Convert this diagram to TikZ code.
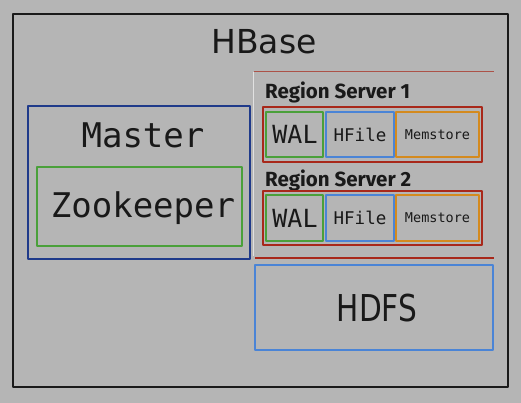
\documentclass[tikz,border=0pt]{standalone}
\usepackage{fontspec}
\setmainfont{DejaVu Sans}
\newfontfamily\monof{DejaVu Sans Mono}
\newfontfamily\rsf{Fira Sans}
\definecolor{bg}{HTML}{B5B5B5}
\definecolor{outerc}{HTML}{1A1A1A}
\definecolor{masterc}{HTML}{1F3A8A}
\definecolor{greenc}{HTML}{4AA03A}
\definecolor{bluec}{HTML}{4A84D6}
\definecolor{orangec}{HTML}{D48A1E}
\definecolor{redc}{HTML}{A8281A}
\begin{document}
\begin{tikzpicture}[x=1pt,y=-1pt,
  boxs/.style={draw, line width=2.2pt, inner sep=0pt, line join=round},
  lab/.style={inner sep=0pt, text=black!90}]
\fill[bg] (0,0) rectangle (521,403);
\useasboundingbox (0,0) rectangle (521,403);
% outer
\draw[boxs, outerc] (13,14) rectangle (508,387);
\node[lab, font=\fontsize{33}{36}\selectfont] (hbase) at (264,42) {HBase};
% master
\draw[boxs, masterc] (28,106) rectangle (250,259);
\node[lab, font=\monof\fontsize{34}{36}\selectfont] (master) at (143,135) {Master};
\draw[boxs, greenc] (37,167) rectangle (242,246);
\node[lab, font=\monof\fontsize{34}{36}\selectfont] (zk) at (143,208) {Zookeeper};
% region server area
\draw[redc!70!bg, line width=0.8pt] (254,71) -- (494,71);
\draw[white!60!bg, line width=0.8pt] (253,72) -- (253,256);
\node[lab, anchor=west, font=\rsf\bfseries\fontsize{20.5}{22}\selectfont] (rs1) at (265,92) {Region Server 1};
\draw[boxs, redc] (263,107) rectangle (482,162);
\draw[boxs, greenc] (266,112) rectangle (323,157);
\draw[boxs, bluec] (326,112) rectangle (394,157);
\draw[boxs, orangec] (396,112) rectangle (479,157);
\node[lab, font=\monof\fontsize{25}{28}\selectfont] (wal1) at (295,134.5) {WAL};
\node[lab, font=\monof\fontsize{17.5}{20}\selectfont] (hf1) at (360,134.5) {HFile};
\node[lab, font=\monof\fontsize{13.5}{16}\selectfont] (ms1) at (437.5,134.5) {Memstore};
\node[lab, anchor=west, font=\rsf\bfseries\fontsize{20.5}{22}\selectfont] (rs2) at (265,180) {Region Server 2};
\draw[boxs, redc] (263,191) rectangle (482,245);
\draw[boxs, greenc] (266,195) rectangle (323,241);
\draw[boxs, bluec] (326,195) rectangle (394,241);
\draw[boxs, orangec] (396,195) rectangle (479,241);
\node[lab, font=\monof\fontsize{25}{28}\selectfont] (wal2) at (295,218) {WAL};
\node[lab, font=\monof\fontsize{17.5}{20}\selectfont] (hf2) at (360,218) {HFile};
\node[lab, font=\monof\fontsize{13.5}{16}\selectfont] (ms2) at (437.5,218) {Memstore};
\draw[redc, line width=2.2pt] (255,258) -- (494,258);
% HDFS
\draw[boxs, bluec] (255,265) rectangle (493,350);
\node[lab, font=\fontsize{37}{40}\selectfont] (hdfs) at (377,308) {\scalebox{0.8}[1]{HDFS}};
\end{tikzpicture}
\end{document}
